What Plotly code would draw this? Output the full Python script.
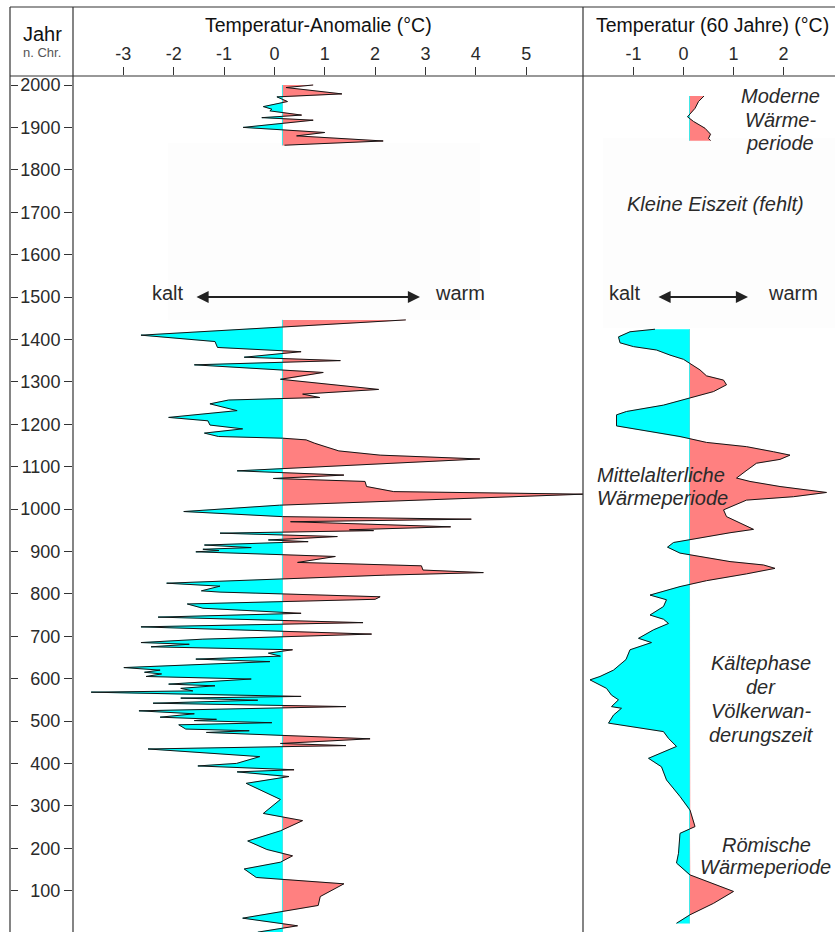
import plotly.graph_objects as go

# ---------------- data ----------------
left_modern_year = [2000, 1994, 1979, 1972, 1961, 1949, 1943, 1939, 1929, 1923, 1917, 1900, 1888, 1880, 1868, 1858]
left_modern_temp = [0.77, 0.23, 1.34, 0.05, 0.26, -0.22, -0.05, -0.09, 0.54, -0.25, 0.77, -0.62, 1.00, 0.44, 2.16, 0.20]

left_main_year = [1446, 1410, 1395, 1381, 1371, 1358, 1350, 1340, 1322, 1306, 1282, 1271, 1263, 1257,
                  1248, 1232, 1216, 1208, 1198, 1189, 1179, 1171, 1167, 1163, 1155, 1147, 1137, 1127,
                  1118, 1090, 1080, 1072, 1065, 1053, 1041, 1035, 1009, 994, 982, 976, 970, 958, 951,
                  949, 943, 935, 927, 923, 915, 909, 905, 902, 899, 888, 874, 866, 856, 850, 844, 825,
                  818, 807, 804, 793, 787, 776, 766, 754, 745, 732, 722, 705, 693, 685, 681, 675, 668,
                  660, 653, 646, 640, 626, 620, 615, 611, 605, 599, 587, 583, 577, 571, 568, 558, 554,
                  549, 542, 534, 524, 517, 509, 504, 501, 496, 491, 481, 477, 473, 458, 447, 442, 434,
                  416, 400, 394, 385, 380, 369, 353, 315, 282, 265, 241, 217, 197, 182, 167, 151, 131,
                  116, 86, 65, 35, 17, 2]
left_main_temp = [2.61, -2.65, -1.18, -1.13, 0.53, -0.60, 1.31, -1.59, 0.97, 0.12, 2.07, 0.56, 0.90, -0.91,
                  -1.28, -0.74, -2.10, -1.32, -1.28, -0.63, -1.39, -1.11, 0.16, 0.63, 0.80, 1.01, 1.28, 2.10,
                  4.08, -0.74, 1.38, -0.02, 1.80, 1.83, 2.37, 6.14, 0.10, -1.80, 0.16, 3.91, 0.32, 3.50, 1.49,
                  1.97, -1.08, 1.25, -0.12, 0.67, -1.39, -0.46, -1.42, -1.10, -1.56, 1.21, 0.46, 2.92, 2.95, 4.15, 2.20, -2.14,
                  -1.08, -1.45, -1.08, 2.10, 2.00, -1.73, -1.42, 0.53, -2.31, 1.76, -2.65, 1.93, -1.42, -2.65, -1.69, -2.45, 0.36,
                  -0.12, 0.12, -1.56, -0.09, -2.99, -2.27, -2.58, -2.24, -2.55, -0.46, -2.10, -1.18, -1.86, -1.62, -3.64, 0.53, -1.86,
                  -0.33, -2.41, 1.42, -2.69, -1.59, -2.27, -1.15, -1.59, -0.05, -1.90, -1.76, -0.50, -1.35, 1.90, 0.12, 1.42, -2.51,
                  -0.29, -0.75, -1.52, 0.39, -0.74, 0.29, -0.56, 0.12, -0.22, 0.56, 0.12, -0.53, -0.15, 0.36, 0.12, -0.60, -0.36,
                  1.38, 0.91, 0.87, -0.63, 0.46, -0.33]

right_modern_year = [1974, 1961, 1945, 1925, 1914, 1898, 1884, 1874, 1869]
right_modern_temp = [0.41, 0.30, 0.23, 0.08, 0.20, 0.43, 0.54, 0.50, 0.54]

right_main_year = [1424, 1418, 1406, 1392, 1383, 1375, 1363, 1353, 1328, 1314, 1304, 1293, 1277, 1245,
                   1230, 1222, 1196, 1184, 1171, 1157, 1147, 1135, 1127, 1117, 1108, 1090, 1073, 1065,
                   1053, 1039, 1029, 1021, 1005, 998, 982, 962, 952, 944, 921, 910, 896, 876, 868, 860,
                   847, 831, 817, 797, 786, 770, 750, 740, 730, 715, 695, 685, 668, 645, 620, 605, 597,
                   577, 561, 550, 534, 530, 514, 495, 475, 459, 440, 412, 392, 361, 322, 290, 251, 235,
                   188, 165, 137, 98, 70, 43, 23]
right_main_temp = [-0.57, -1.07, -1.30, -1.27, -1.00, -0.54, -0.27, 0.00, 0.33, 0.46, 0.80, 0.86, 0.60, -0.40,
                   -1.14, -1.34, -1.34, -0.74, -0.07, 0.46, 1.26, 1.80, 2.13, 1.93, 1.46, 1.25, 1.06, 1.33,
                   1.93, 2.86, 2.20, 1.26, 0.95, 0.80, 0.86, 1.20, 1.40, 0.93, -0.20, -0.32, -0.07, 0.93, 1.60, 1.83,
                   1.26, 0.46, -0.07, -0.67, -0.34, -0.40, -0.67, -0.40, -0.30, -0.60, -0.90, -0.64, -1.07, -1.15, -1.40, -1.67, -1.87,
                   -1.54, -1.44, -1.30, -1.44, -1.24, -1.40, -1.50, -0.40, -0.30, -0.14, -0.70, -0.44, -0.34, -0.07, 0.13, 0.23, -0.07,
                   -0.10, -0.14, 0.13, 1.00, 0.60, 0.13, -0.14]

left_ticks = [-3, -2, -1, 0, 1, 2, 3, 4, 5]
right_ticks = [-1, 0, 1, 2]
year_ticks = list(range(100, 2001, 100))
LEFT_BASE = 0.16
RIGHT_BASE = 0.12

# ---------------- styling / geometry ----------------
W, H = 835, 932
RED = "#ff8080"
CYAN = "#00ffff"
FONT = "Liberation Sans, Arial, sans-serif"
TXT = "#2a2a2a"


def px(xp):
    return xp / W


def py(yp):
    return 1 - yp / H


fig = go.Figure()


def add_segment(years, temps, base, xa):
    ys, xs = [], []
    for i in range(len(years)):
        if i > 0:
            a, b = temps[i - 1] - base, temps[i] - base
            if a * b < 0:
                t = a / (a - b)
                ys.append(years[i - 1] + t * (years[i] - years[i - 1]))
                xs.append(base)
        ys.append(years[i])
        xs.append(temps[i])
    pos = [max(v, base) for v in xs]
    neg = [min(v, base) for v in xs]
    for arr, col in ((pos, RED), (neg, CYAN)):
        fig.add_trace(go.Scatter(
            x=arr + [base, base], y=ys + [ys[-1], ys[0]],
            fill="toself", fillcolor=col, mode="lines",
            line=dict(width=0.5, color=col), xaxis=xa, yaxis="y",
            hoverinfo="skip", showlegend=False))
    fig.add_trace(go.Scatter(
        x=temps, y=years, mode="lines", line=dict(color="#151515", width=1),
        xaxis=xa, yaxis="y", hoverinfo="skip", showlegend=False))


add_segment(left_modern_year, left_modern_temp, LEFT_BASE, "x")
add_segment(left_main_year, left_main_temp, LEFT_BASE, "x")
add_segment(right_modern_year, right_modern_temp, RIGHT_BASE, "x2")
add_segment(right_main_year, right_main_temp, RIGHT_BASE, "x2")

# invisible trace for the outer tick-dash axis
fig.add_trace(go.Scatter(x=[None], y=[None], xaxis="x", yaxis="y2", showlegend=False))

yr_lo = 2000 - (H - 85) / 0.424
yr_hi = 2000 + (85 - 76) / 0.424
xl_lo, xl_hi = (73 - 274.4) / 50.35, (583 - 274.4) / 50.35
xr_lo, xr_hi = (583 - 683.5) / 50.0, (835 - 683.5) / 50.0

axis_common = dict(showgrid=False, zeroline=False, showline=False,
                   ticks="outside", ticklen=8, tickwidth=1, tickcolor="#333",
                   tickfont=dict(family=FONT, size=18, color=TXT))

fig.update_layout(
    width=W, height=H, autosize=False,
    margin=dict(l=0, r=0, t=0, b=0),
    paper_bgcolor="white", plot_bgcolor="white",
    showlegend=False,
    xaxis=dict(domain=[px(73), px(583)], range=[xl_lo, xl_hi], side="top", anchor="y",
               tickvals=left_ticks, ticktext=[str(t) for t in left_ticks], **axis_common),
    xaxis2=dict(domain=[px(583), 1.0], range=[xr_lo, xr_hi], side="top", anchor="y",
                tickvals=right_ticks, ticktext=[str(t) for t in right_ticks], **axis_common),
    yaxis=dict(domain=[0, py(76)], range=[yr_lo, yr_hi], anchor="x",
               tickvals=year_ticks, ticktext=[str(t) for t in year_ticks], **axis_common),
    yaxis2=dict(domain=[0, py(76)], range=[yr_lo, yr_hi], overlaying="y", anchor="free",
                position=px(10), side="left", tickvals=year_ticks, showticklabels=False,
                showgrid=False, zeroline=False, showline=False,
                ticks="inside", ticklen=7, tickwidth=1, tickcolor="#333"),
)

# faint background panels
shapes = [
    dict(type="rect", xref="paper", yref="paper", x0=px(168), x1=px(480), y0=py(320), y1=py(143),
         fillcolor="#fdfdfd", line=dict(width=0), layer="below"),
    dict(type="rect", xref="paper", yref="paper", x0=px(603), x1=1.0, y0=py(328), y1=py(138),
         fillcolor="#fdfdfd", line=dict(width=0), layer="below"),
]
# frame lines
for xp in (10, 73, 583):
    shapes.append(dict(type="line", xref="paper", yref="paper", x0=px(xp), x1=px(xp), y0=0, y1=py(7),
                       line=dict(color="#333", width=1.2)))
for yp in (7, 76):
    shapes.append(dict(type="line", xref="paper", yref="paper", x0=px(10), x1=1.0, y0=py(yp), y1=py(yp),
                       line=dict(color="#333", width=1.2)))
fig.update_layout(shapes=shapes)

ann = []


def text(s, xp, yp, size=20, italic=False, color=TXT, xanchor="center"):
    ann.append(dict(text=s, x=px(xp), y=py(yp), xref="paper", yref="paper", showarrow=False,
                    xanchor=xanchor, yanchor="middle",
                    font=dict(family=FONT, size=size, color=color,
                              style="italic" if italic else "normal")))


text("Jahr", 42, 34, size=20, color="#111")
text("n. Chr.", 42, 53, size=13, color="#555")
text("Temperatur-Anomalie (°C)", 318, 25, size=19.5, color="#111")
text("Temperatur (60 Jahre) (°C)", 712, 25, size=19.5, color="#111")

text("Moderne", 780, 96, italic=True)
text("Wärme-", 780, 120, italic=True)
text("periode", 780, 143, italic=True)
text("Kleine Eiszeit (fehlt)", 715, 204, italic=True)
text("kalt", 168, 293)
text("warm", 460, 293)
text("kalt", 625, 293)
text("warm", 793, 293)
text("Mittelalterliche", 595, 475, italic=True, xanchor="left")
text("Wärmeperiode", 595, 498, italic=True, xanchor="left")
text("Kältephase", 761, 663, italic=True)
text("der", 761, 687, italic=True)
text("Völkerwan-", 761, 711, italic=True)
text("derungszeit", 761, 735, italic=True)
text("Römische", 766, 845, italic=True)
text("Wärmeperiode", 765, 867, italic=True)

# double-headed arrows (kalt <-> warm)
for xa, head, tail in (("x", (420 - 274.4) / 50.35, (195 - 274.4) / 50.35),
                       ("x2", (748 - 683.5) / 50.0, (657 - 683.5) / 50.0)):
    ann.append(dict(text="", x=head, y=1500, xref=xa, yref="y", ax=tail, ay=1500, axref=xa, ayref="y",
                    showarrow=True, arrowhead=2, arrowside="end+start", arrowsize=1.1,
                    arrowwidth=2.2, arrowcolor="#222"))

fig.update_layout(annotations=ann)

fig.write_html("out.html", config={"displayModeBar": False},
               post_script="document.body.style.margin='0px';document.body.style.overflow='hidden';")
